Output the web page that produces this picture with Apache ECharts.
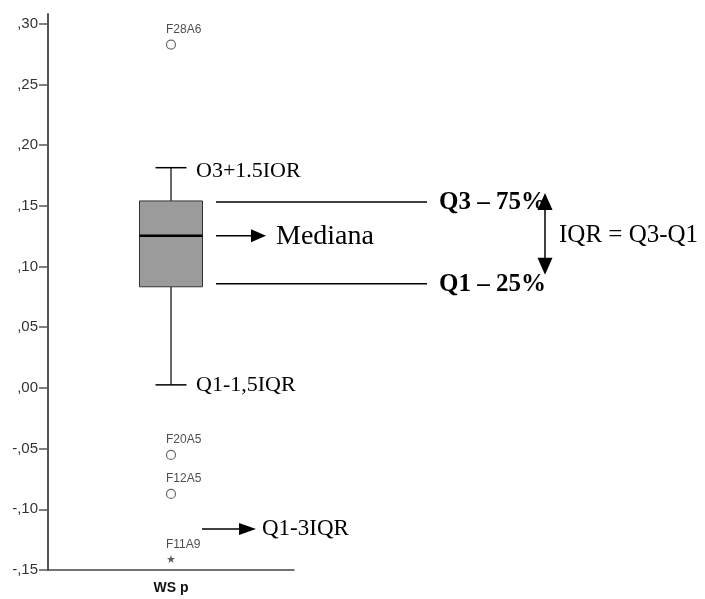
<!DOCTYPE html>
<html>
<head>
<meta charset="utf-8">
<script src="https://cdn.jsdelivr.net/npm/echarts@6/dist/echarts.min.js"></script>
<style>
  html, body { margin: 0; padding: 0; background: #fff; }
  #chart { width: 705px; height: 599px; }
</style>
</head>
<body>
<div id="chart"></div>
<script>
const categories = ["WS p"];
// low whisker, Q1, median, Q3, high whisker
const boxStats = [[0.0025, 0.0833, 0.1253, 0.154, 0.1814]];
const outlierNames = ["F28A6", "F20A5", "F12A5"];
const outlierValues = [0.2828, -0.0552, -0.0873];
const extremeNames = ["F11A9"];
const extremeValues = [-0.1409];
const yTicks = [-0.15, -0.10, -0.05, 0, 0.05, 0.10, 0.15, 0.20, 0.25, 0.30];

const SANS = "'Liberation Sans', Arial, sans-serif";
const SERIF = "'Liberation Serif', 'Times New Roman', serif";

function fmtTick(v) {
  const s = Math.abs(v).toFixed(2).slice(1).replace(".", ",");
  return (v < -1e-9 ? "-" : "") + s;
}

function txt(text, x, y, size, bold) {
  return {
    type: "text",
    style: {
      text: text, x: x, y: y,
      fontFamily: SERIF, fontSize: size, fontWeight: bold ? "bold" : "normal",
      fill: "#000", align: "left", verticalAlign: "middle"
    }
  };
}
function seg(x1, y1, x2, y2, w) {
  return { type: "line", shape: { x1: x1, y1: y1, x2: x2, y2: y2 }, style: { stroke: "#000", lineWidth: w || 1.5 } };
}
function tri(points) {
  return { type: "polygon", shape: { points: points }, style: { fill: "#000" } };
}

// box, whiskers and the explanatory notes drawn around it
function renderBox(params, api) {
  const c = api.value(0);
  const cx = api.coord([c, 0])[0];
  const yLow = api.coord([c, api.value(1)])[1];
  const yQ1 = api.coord([c, api.value(2)])[1];
  const yMed = api.coord([c, api.value(3)])[1];
  const yQ3 = api.coord([c, api.value(4)])[1];
  const yHigh = api.coord([c, api.value(5)])[1];
  const yExt = api.coord([c, extremeValues[0]])[1];
  const hw = 31.5, cap = 15.5;

  const kids = [
    seg(cx, yHigh, cx, yQ3, 1.2),
    seg(cx, yQ1, cx, yLow, 1.2),
    seg(cx - cap, yHigh, cx + cap, yHigh, 1.5),
    seg(cx - cap, yLow, cx + cap, yLow, 1.5),
    { type: "rect", shape: { x: cx - hw, y: yQ3, width: hw * 2, height: yQ1 - yQ3 },
      style: { fill: "#9b9b9b", stroke: "#333", lineWidth: 1 } },
    seg(cx - hw, yMed, cx + hw, yMed, 2.5),

    // notes
    txt("O3+1.5IOR", cx + 25, yHigh + 4, 22),
    txt("Q1-1,5IQR", cx + 25, yLow, 22),
    seg(cx + 45, yQ3 + 1, cx + 256, yQ3 + 1),
    seg(cx + 45, yQ1 - 3, cx + 256, yQ1 - 3),
    txt("Q3 \u2013 75%", cx + 268, yQ3 + 2, 25, true),
    txt("Q1 \u2013 25%", cx + 268, yQ1 - 2, 25, true),
    seg(cx + 45, yMed, cx + 82, yMed),
    tri([[cx + 80, yMed - 6.5], [cx + 95, yMed], [cx + 80, yMed + 6.5]]),
    txt("Mediana", cx + 105, yMed + 1, 28),
    seg(cx + 374, yQ3 + 6, cx + 374, yQ1 - 26),
    tri([[cx + 374, yQ3 - 8], [cx + 366.5, yQ3 + 9], [cx + 381.5, yQ3 + 9]]),
    tri([[cx + 374, yQ1 - 12], [cx + 366.5, yQ1 - 29], [cx + 381.5, yQ1 - 29]]),
    txt("IQR = Q3-Q1", cx + 388, yMed, 25),
    seg(cx + 31, yExt - 30, cx + 70, yExt - 30),
    tri([[cx + 68, yExt - 36], [cx + 85, yExt - 30], [cx + 68, yExt - 24]]),
    txt("Q1-3IQR", cx + 91, yExt - 30, 23)
  ];
  return { type: "group", children: kids };
}

const pointLabel = {
  show: true, position: "top", distance: 4, align: "left", offset: [-5, 0],
  formatter: "{b}", fontFamily: SANS, fontSize: 12, color: "#222"
};

const chart = echarts.init(document.getElementById("chart"));
chart.setOption({
  animation: false,
  backgroundColor: "#fff",
  grid: { left: 48, top: 14, width: 246, bottom: 29 },
  xAxis: {
    type: "category",
    data: categories,
    boundaryGap: true,
    axisLine: { onZero: false, lineStyle: { color: "#444", width: 1.5 } },
    axisTick: { alignWithLabel: true, length: 8, lineStyle: { color: "#444", width: 1.5 } },
    axisLabel: { margin: 11, fontFamily: SANS, fontSize: 14, fontWeight: "bold", color: "#111" }
  },
  yAxis: {
    type: "value",
    min: -0.15,
    max: 0.308,
    splitLine: { show: false },
    axisLine: { show: true, lineStyle: { color: "#555", width: 2 } },
    axisTick: { show: true, length: 9, customValues: yTicks, lineStyle: { color: "#555", width: 1.5 } },
    axisLabel: {
      margin: 10, customValues: yTicks, formatter: fmtTick,
      fontFamily: SANS, fontSize: 15, color: "#333"
    }
  },
  series: [
    {
      type: "custom",
      renderItem: renderBox,
      clip: false,
      encode: { x: 0, y: [1, 2, 3, 4, 5] },
      data: boxStats.map((s, i) => [i].concat(s))
    },
    {
      type: "scatter",
      symbol: "circle",
      symbolSize: 9,
      itemStyle: { color: "#fff", borderColor: "#444", borderWidth: 1.2 },
      label: pointLabel,
      data: outlierValues.map((v, i) => ({ name: outlierNames[i], value: [categories[0], v] }))
    },
    {
      type: "scatter",
      symbol: "path://M5,0 L6.2,3.6 L10,3.6 L7,5.9 L8.1,9.5 L5,7.3 L1.9,9.5 L3,5.9 L0,3.6 L3.8,3.6 Z",
      symbolSize: 8,
      itemStyle: { color: "#333" },
      label: pointLabel,
      data: extremeValues.map((v, i) => ({ name: extremeNames[i], value: [categories[0], v] }))
    }
  ]
});
</script>
</body>
</html>
